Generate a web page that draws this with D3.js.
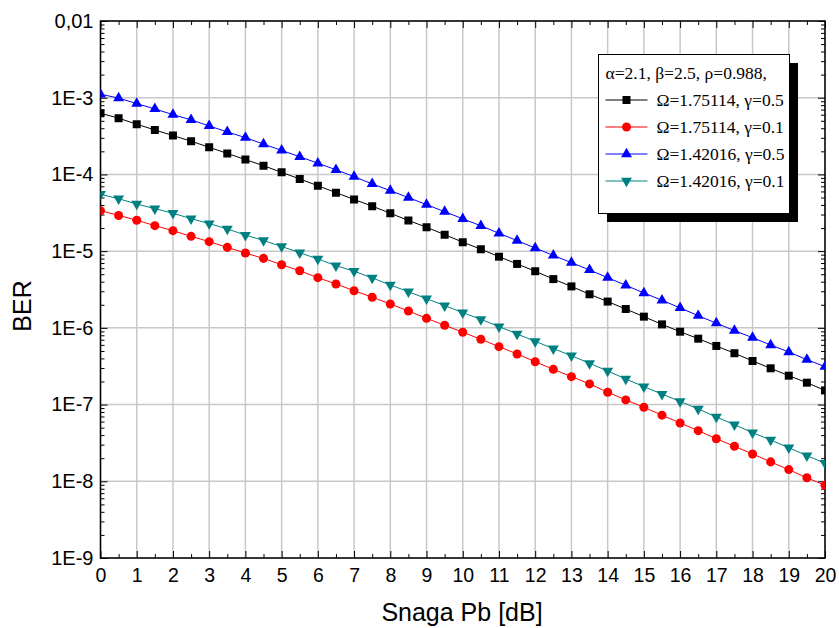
<!DOCTYPE html>
<html>
<head>
<meta charset="utf-8">
<script src="https://cdn.jsdelivr.net/npm/d3@7"></script>
<style>
    body { margin: 0; background: #fff; }
    svg { display: block; }
</style>
</head>
<body>
<svg id="berChart" width="839" height="628"></svg>
<script>
// Snaga Pb [dB]
var snr = [0, 0.5, 1, 1.5, 2, 2.5, 3, 3.5, 4, 4.5, 5, 5.5, 6, 6.5, 7, 7.5, 8, 8.5, 9, 9.5, 10,
    10.5, 11, 11.5, 12, 12.5, 13, 13.5, 14, 14.5, 15, 15.5, 16, 16.5, 17, 17.5, 18, 18.5, 19, 19.5, 20];

// Omega=1.75114, gamma=0.5 (black squares)
var berBlack = [6.28e-4, 5.41e-4, 4.51e-4, 3.80e-4, 3.21e-4, 2.71e-4, 2.26e-4, 1.88e-4, 1.56e-4, 1.30e-4,
    1.064e-4, 8.73e-5, 7.13e-5, 5.79e-5, 4.72e-5, 3.86e-5, 3.12e-5, 2.51e-5, 2.05e-5, 1.64e-5,
    1.31e-5, 1.06e-5, 8.47e-6, 6.81e-6, 5.47e-6, 4.32e-6, 3.47e-6, 2.74e-6, 2.20e-6, 1.76e-6,
    1.40e-6, 1.11e-6, 8.91e-7, 7.23e-7, 5.81e-7, 4.67e-7, 3.70e-7, 2.97e-7, 2.38e-7, 1.93e-7, 1.53e-7];

// Omega=1.75114, gamma=0.1 (red circles)
var berRed = [3.37e-5, 2.92e-5, 2.53e-5, 2.15e-5, 1.85e-5, 1.56e-5, 1.33e-5, 1.12e-5, 9.44e-6, 8.05e-6,
    6.65e-6, 5.55e-6, 4.51e-6, 3.73e-6, 3.05e-6, 2.51e-6, 2.05e-6, 1.66e-6, 1.33e-6, 1.08e-6,
    8.77e-7, 7.10e-7, 5.69e-7, 4.57e-7, 3.62e-7, 2.88e-7, 2.31e-7, 1.86e-7, 1.45e-7, 1.15e-7,
    9.22e-8, 7.28e-8, 5.75e-8, 4.57e-8, 3.59e-8, 2.86e-8, 2.27e-8, 1.79e-8, 1.42e-8, 1.11e-8, 8.87e-9];

// Omega=1.42016, gamma=0.5 (blue triangles)
var berBlue = [1.11e-3, 9.9e-4, 8.38e-4, 7.14e-4, 6.02e-4, 5.14e-4, 4.29e-4, 3.58e-4, 3.02e-4, 2.48e-4,
    2.06e-4, 1.70e-4, 1.40e-4, 1.15e-4, 9.36e-5, 7.52e-5, 6.15e-5, 4.99e-5, 4.04e-5, 3.27e-5,
    2.64e-5, 2.14e-5, 1.71e-5, 1.37e-5, 1.10e-5, 8.79e-6, 7.08e-6, 5.69e-6, 4.51e-6, 3.59e-6,
    2.85e-6, 2.29e-6, 1.82e-6, 1.44e-6, 1.15e-6, 9.2e-7, 7.45e-7, 5.98e-7, 4.85e-7, 3.85e-7, 3.12e-7];

// Omega=1.42016, gamma=0.1 (teal down triangles)
var berTeal = [5.52e-5, 4.82e-5, 4.12e-5, 3.58e-5, 3.12e-5, 2.65e-5, 2.29e-5, 1.95e-5, 1.62e-5, 1.38e-5,
    1.15e-5, 9.55e-6, 7.91e-6, 6.47e-6, 5.47e-6, 4.48e-6, 3.62e-6, 2.96e-6, 2.40e-6, 1.95e-6,
    1.58e-6, 1.29e-6, 1.04e-6, 8.32e-7, 6.68e-7, 5.36e-7, 4.34e-7, 3.45e-7, 2.74e-7, 2.16e-7,
    1.71e-7, 1.37e-7, 1.10e-7, 8.77e-8, 6.89e-8, 5.47e-8, 4.31e-8, 3.45e-8, 2.74e-8, 2.16e-8, 1.72e-8];

var seriesLabels = ['Ω=1.75114, γ=0.5', 'Ω=1.75114, γ=0.1', 'Ω=1.42016, γ=0.5', 'Ω=1.42016, γ=0.1'];
var legendTitle = 'α=2.1, β=2.5, ρ=0.988,';

var xTicks = [0, 1, 2, 3, 4, 5, 6, 7, 8, 9, 10, 11, 12, 13, 14, 15, 16, 17, 18, 19, 20];
var xMinorTicks = [0.5, 1.5, 2.5, 3.5, 4.5, 5.5, 6.5, 7.5, 8.5, 9.5, 10.5, 11.5, 12.5, 13.5, 14.5, 15.5, 16.5, 17.5, 18.5, 19.5];
var yTicks = [1e-9, 1e-8, 1e-7, 1e-6, 1e-5, 1e-4, 1e-3, 1e-2];
var yTickLabels = ['1E-9', '1E-8', '1E-7', '1E-6', '1E-5', '1E-4', '1E-3', '0,01'];

var series = [
    { name: seriesLabels[0], values: berBlack, color: '#000000', shape: d3.symbolSquare, size: 64, rot: 0 },
    { name: seriesLabels[1], values: berRed, color: '#ff0000', shape: d3.symbolCircle, size: 64, rot: 0 },
    { name: seriesLabels[2], values: berBlue, color: '#0000ff', shape: d3.symbolTriangle, size: 52, rot: 0 },
    { name: seriesLabels[3], values: berTeal, color: '#008080', shape: d3.symbolTriangle, size: 52, rot: 180 },
];

var svg = d3.select('#berChart');
var margin = { top: 21, right: 14, bottom: 70, left: 100.5 };
var width = 839 - margin.left - margin.right;
var height = 628 - margin.top - margin.bottom;
var g = svg.append('g').attr('transform', 'translate(' + margin.left + ',' + margin.top + ')');

var x = d3.scaleLinear().domain([0, 20]).range([0, width]);
var y = d3.scaleLog().domain([1e-9, 1e-2]).range([height, 0]);

var sansFont = '"Liberation Sans", Arial, sans-serif';
var serifFont = '"Liberation Serif", "Times New Roman", serif';

// grid
g.append('g')
    .selectAll('line')
    .data(xTicks)
    .enter().append('line')
    .attr('x1', function(d) { return x(d); })
    .attr('x2', function(d) { return x(d); })
    .attr('y1', 0)
    .attr('y2', height)
    .attr('stroke', '#c8c8c8')
    .attr('stroke-width', 1.5);

g.append('g')
    .selectAll('line')
    .data(yTicks)
    .enter().append('line')
    .attr('x1', 0)
    .attr('x2', width)
    .attr('y1', function(d) { return y(d); })
    .attr('y2', function(d) { return y(d); })
    .attr('stroke', '#c8c8c8')
    .attr('stroke-width', 1.5);

// axes: ticks point inward
var styleAxis = function(sel, fontSize) {
    sel.select('.domain').remove();
    sel.selectAll('line').attr('stroke', '#000').attr('stroke-width', 1);
    sel.selectAll('text')
        .attr('fill', '#000')
        .style('font-family', sansFont)
        .style('font-size', fontSize + 'px');
};

var minorY = y.ticks().filter(function(d) { return yTicks.indexOf(d) < 0; });

g.append('g')
    .attr('transform', 'translate(0,' + height + ')')
    .call(d3.axisBottom(x).tickValues(xTicks).tickSize(-7).tickPadding(10).tickFormat(d3.format('d')))
    .call(styleAxis, 19.5);

g.append('g')
    .attr('transform', 'translate(0,' + height + ')')
    .call(d3.axisBottom(x).tickValues(xMinorTicks).tickSize(-4).tickFormat(''))
    .call(styleAxis, 19.5);

g.append('g')
    .call(d3.axisTop(x).tickValues(xTicks).tickSize(-7).tickFormat(''))
    .call(styleAxis, 19.5);

g.append('g')
    .call(d3.axisTop(x).tickValues(xMinorTicks).tickSize(-4).tickFormat(''))
    .call(styleAxis, 19.5);

g.append('g')
    .call(d3.axisLeft(y).tickValues(yTicks).tickSize(-7).tickPadding(7)
        .tickFormat(function(d, i) { return yTickLabels[i]; }))
    .call(styleAxis, 20);

g.append('g')
    .call(d3.axisLeft(y).tickValues(minorY).tickSize(-4).tickFormat(''))
    .call(styleAxis, 20);

g.append('g')
    .attr('transform', 'translate(' + width + ',0)')
    .call(d3.axisRight(y).tickValues(yTicks).tickSize(-7).tickFormat(''))
    .call(styleAxis, 20);

g.append('g')
    .attr('transform', 'translate(' + width + ',0)')
    .call(d3.axisRight(y).tickValues(minorY).tickSize(-4).tickFormat(''))
    .call(styleAxis, 20);

// frame
g.append('rect')
    .attr('width', width)
    .attr('height', height)
    .attr('fill', 'none')
    .attr('stroke', '#000')
    .attr('stroke-width', 1.5);

// axis titles
svg.append('text')
    .attr('transform', 'translate(31,306) rotate(-90)')
    .attr('text-anchor', 'middle')
    .style('font-family', sansFont)
    .style('font-size', '25px')
    .text('BER');

svg.append('text')
    .attr('x', 462)
    .attr('y', 621)
    .attr('text-anchor', 'middle')
    .style('font-family', sansFont)
    .style('font-size', '25px')
    .text('Snaga Pb [dB]');

// series, clipped to the plot area
svg.append('defs').append('clipPath')
    .attr('id', 'plotClip')
    .append('rect')
    .attr('width', width)
    .attr('height', height);

var plot = g.append('g').attr('clip-path', 'url(#plotClip)');

var line = d3.line()
    .x(function(d, i) { return x(snr[i]); })
    .y(function(d) { return y(d); });

series.forEach(function(s) {
    plot.append('path')
        .datum(s.values)
        .attr('fill', 'none')
        .attr('stroke', s.color)
        .attr('stroke-width', 1)
        .attr('d', line);

    plot.append('g')
        .selectAll('path')
        .data(s.values)
        .enter().append('path')
        .attr('transform', function(d, i) {
            return 'translate(' + x(snr[i]) + ',' + y(d) + ') rotate(' + s.rot + ')';
        })
        .attr('d', d3.symbol().type(s.shape).size(s.size))
        .attr('fill', s.color);
});

// legend with drop shadow
var legend = svg.append('g').attr('transform', 'translate(598.5,54.5)');
var legendW = 191;
var legendH = 159;

legend.append('rect')
    .attr('x', 8.5)
    .attr('y', 8.5)
    .attr('width', legendW)
    .attr('height', legendH)
    .attr('fill', '#000');

legend.append('rect')
    .attr('width', legendW)
    .attr('height', legendH)
    .attr('fill', '#fff')
    .attr('stroke', '#000')
    .attr('stroke-width', 1);

legend.append('text')
    .attr('x', 7)
    .attr('y', 24)
    .style('font-family', serifFont)
    .style('font-size', '17.5px')
    .text(legendTitle);

var rows = legend.selectAll('g.row')
    .data(series)
    .enter().append('g')
    .attr('class', 'row')
    .attr('transform', function(d, i) { return 'translate(0,' + (45.5 + i * 27) + ')'; });

rows.append('line')
    .attr('x1', 7)
    .attr('x2', 49)
    .attr('stroke', function(d) { return d.color; })
    .attr('stroke-width', 1);

rows.append('path')
    .attr('transform', function(d) { return 'translate(28,0) rotate(' + d.rot + ')'; })
    .attr('d', function(d) { return d3.symbol().type(d.shape).size(d.size)(); })
    .attr('fill', function(d) { return d.color; });

rows.append('text')
    .attr('x', 58)
    .attr('y', 6)
    .style('font-family', serifFont)
    .style('font-size', '17.5px')
    .text(function(d) { return d.name; });
</script>
</body>
</html>
